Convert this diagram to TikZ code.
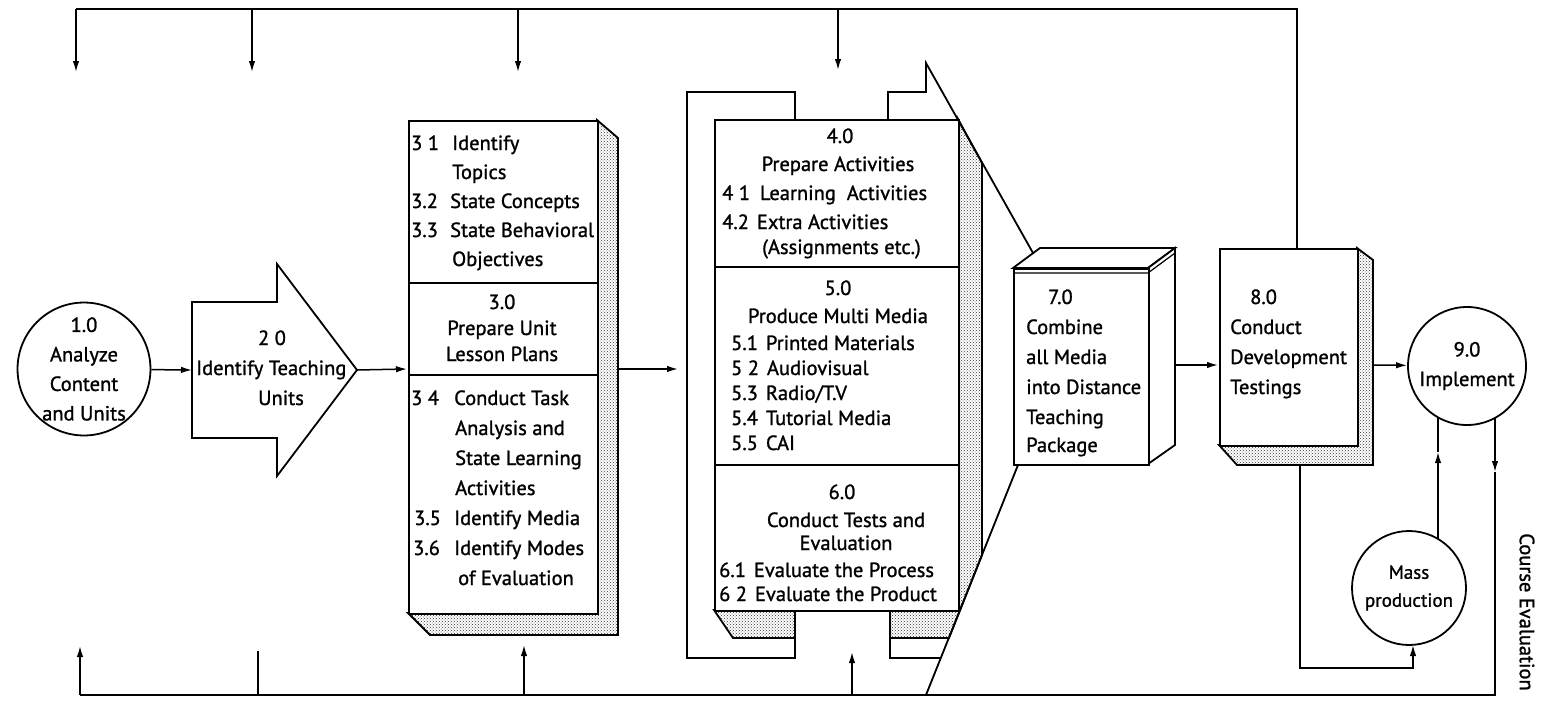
\documentclass[tikz,border=0pt]{standalone}
\usepackage{fontspec}
\setmainfont{PT Sans}[FakeBold=1.2]
\usetikzlibrary{arrows.meta,patterns}
\begin{document}
\begin{tikzpicture}[x=1pt,y=-1pt,
  box/.style={draw, line width=1.8pt, line join=miter},
  conn/.style={line width=1.5pt},
  arr/.style={conn,-{Latex[length=11pt,width=6.5pt]}},
  shade/.style={draw, line width=1.8pt, pattern=crosshatch dots, pattern color=black!80},
  txt/.style={font=\fontsize{20.5}{29}\selectfont, inner sep=0pt},
  lt/.style={txt, anchor=base west},
  ct/.style={txt, anchor=base},
  rnode/.style={box, fill=white, anchor=north west, inner sep=0pt},
  cnode/.style={circle, draw, line width=1.8pt, fill=white, inner sep=0pt, align=center, font=\fontsize{20.5}{29.5}\selectfont},
]
\useasboundingbox (0,0) rectangle (1542,704);

% ---------- coordinates for connectors ----------
\coordinate (topR) at (1297,9);
\coordinate (topL) at (76,9);
\coordinate (d1) at (76,72);
\coordinate (d2s) at (252,9);  \coordinate (d2) at (252,72);
\coordinate (d3s) at (518,9);  \coordinate (d3) at (518,72);
\coordinate (d4s) at (838,9);  \coordinate (d4) at (838,70);
\coordinate (botR) at (1495,695);
\coordinate (botL) at (80,695);
\coordinate (u1) at (80,646);
\coordinate (u2s) at (258,695); \coordinate (u2) at (258,651);
\coordinate (u3s) at (524,695); \coordinate (u3) at (524,645);
\coordinate (u4s) at (852,695); \coordinate (u4) at (852,652);

% ---------- 1.0 ----------
\node[cnode, minimum size=132pt] (c1) at (84,369) {1.0\\Analyze\\Content\\and Units};

% ---------- 2.0 arrow shape ----------
\draw[box] (192,302) -- (277,302) -- (277,264) -- (357,370) -- (277,476) -- (277,438) -- (192,438) -- cycle;
\coordinate (a2w) at (192,370);
\coordinate (a2e) at (357,370);
\node[ct] (t20) at (272,345) {2 0};
\node[lt] (t21) at (196,375) {Identify Teaching};
\node[ct] (t22) at (281,405) {Units};

% ---------- 3 box ----------
\path[shade] (597,120) -- (618,138) -- (618,635) -- (430,635) -- (408,613) -- (597,613) -- cycle;
\node[rnode, minimum width=189pt, minimum height=493pt] (b3) at (408,120) {};
\draw[box] (408,283) -- (597,283);
\draw[box] (408,375) -- (597,375);
\coordinate (b3w) at (407,369);
\coordinate (b3e) at (618,369);
\node[lt] at (411,150) {\makebox[41pt][l]{3 1}Identify};
\node[lt] at (452,179) {Topics};
\node[lt] at (411,208) {\makebox[39pt][l]{3.2}State Concepts};
\node[lt] at (411,237) {\makebox[39pt][l]{3.3}State Behavioral};
\node[lt] at (452,266) {Objectives};
\node[ct] at (502,309) {3.0};
\node[ct] at (502,335) {Prepare Unit};
\node[ct] at (502,361) {Lesson Plans};
\node[lt] at (411,405) {\makebox[43pt][l]{3 4}Conduct Task};
\node[lt] at (455,435) {Analysis and};
\node[lt] at (455,465) {State Learning};
\node[lt] at (455,495) {Activities};
\node[lt] at (414,525) {\makebox[40pt][l]{3.5}Identify Media};
\node[lt] at (413,555) {\makebox[41pt][l]{3.6}Identify Modes};
\node[lt] at (458,585) {of Evaluation};

% ---------- 4/5/6 box ----------
\path[shade] (958,119) -- (982,163) -- (982,555) -- (949,638) -- (890,638) -- (890,610) -- (958,610) -- cycle;
\path[shade] (714,610) -- (733,638) -- (795,638) -- (795,610) -- cycle;
\node[rnode, minimum width=244pt, minimum height=491pt] (b4) at (714,119) {};
\draw[box] (714,267) -- (958,267);
\draw[box] (714,465) -- (958,465);
\draw[box] (795,119) -- (795,92) -- (687,92) -- (687,658) -- (795,658) -- (795,638);
\draw[box] (888,119) -- (888,92) -- (926,92) -- (926,63) -- (1033,253);
\draw[box] (890,638) -- (890,658) -- (941,658);
\draw[box] (1018,465) -- (926,695);
\coordinate (b4w) at (678,369);
\node[ct] at (840,143) {4.0};
\node[ct] at (838,171) {Prepare Activities};
\node[lt] at (722,200) {4 1\hspace{10pt}Learning\ \ Activities};
\node[lt] at (722,229) {4.2\hspace{8pt}Extra Activities};
\node[lt] at (762,254) {(Assignments etc.)};
\node[ct] at (838,295) {5.0};
\node[ct] at (838,323) {Produce Multi Media};
\node[lt] at (731,350) {5.1\hspace{8pt}Printed Materials};
\node[lt] at (731,375) {5 2\hspace{8pt}Audiovisual};
\node[lt] at (731,400) {5.3\hspace{8pt}Radio/T.V};
\node[lt] at (731,425) {5.4\hspace{8pt}Tutorial Media};
\node[lt] at (731,450) {5.5\hspace{8pt}CAI};
\node[ct] at (842,499) {6.0};
\node[ct] at (846,527) {Conduct Tests and};
\node[ct] at (846,550) {Evaluation};
\node[lt] at (719,577) {6.1\hspace{8pt}Evaluate\ the\ Process};
\node[lt] at (719,601) {6 2\hspace{8pt}Evaluate\ the\ Product};

% ---------- 7.0 box ----------
\draw[box, fill=white] (1013,268) -- (1040,248) -- (1175,248) -- (1148,268) -- cycle;
\draw[box, fill=white] (1148,268) -- (1175,248) -- (1175,445) -- (1148,464) -- cycle;
\node[rnode, minimum width=135pt, minimum height=196pt] (b7) at (1013,268) {};
\draw[line width=1.2pt] (1013,273) -- (1148,273) -- (1175,253);
\coordinate (b7e) at (1175,365);
\node[lt] at (1048,304) {7.0};
\node[lt] at (1026,334) {Combine};
\node[lt] at (1026,364) {all Media};
\node[lt] at (1026,394) {into Distance};
\node[lt] at (1026,424) {Teaching};
\node[lt] at (1026,452) {Package};

% ---------- 8.0 box ----------
\path[shade] (1357,248) -- (1373,260) -- (1373,465) -- (1237,465) -- (1219,445) -- (1357,445) -- cycle;
\node[rnode, minimum width=138pt, minimum height=197pt] (b8) at (1219,248) {};
\coordinate (b8w) at (1218,365);
\coordinate (b8e) at (1373,365);
\coordinate (b8t) at (1297,248);
\coordinate (b8b) at (1300,465);
\coordinate (b8c) at (1300,668);
\coordinate (mpc) at (1413,668);
\node[lt] at (1250,304) {8.0};
\node[lt] at (1230,334) {Conduct};
\node[lt] at (1230,364) {Development};
\node[lt] at (1230,394) {Testings};

% ---------- 9.0 and mass production ----------
\node[cnode, minimum size=118pt] (c9) at (1467,366) {9.0\\Implement};
\node[cnode, minimum size=114pt, font=\fontsize{19}{28}\selectfont] (mp) at (1409,588) {Mass\\production};
\coordinate (mpt) at (1438,539);
\coordinate (mpm) at (1438,452);
\coordinate (c9b) at (1438,417);
\coordinate (mpb) at (1413,645);
\coordinate (c9r) at (1495,418);
\coordinate (cem) at (1495,472);
\node[txt, rotate=-90] (ce) at (1527,612) {Course Evaluation};

% ---------- connectors ----------
\draw[arr] (c1) -- (a2w);
\draw[arr] (a2e) -- (b3w);
\draw[arr] (b3e) -- (b4w);
\draw[arr] (b7e) -- (b8w);
\draw[arr] (b8e) -- (c9);
\draw[conn] (b8t) -- (topR) -- (topL);
\draw[arr] (topL) -- (d1);
\draw[arr] (d2s) -- (d2);
\draw[arr] (d3s) -- (d3);
\draw[arr] (d4s) -- (d4);
\draw[arr] (b8b) -- (b8c) -- (mpc) -- (mpb);
\draw[arr] (mpt) -- (mpm);
\draw[conn] (mpm) -- (c9b);
\draw[arr] (c9r) -- (cem);
\draw[conn] (cem) -- (botR) -- (botL);
\draw[arr] (botL) -- (u1);
\draw[conn] (u2s) -- (u2);
\draw[arr] (u3s) -- (u3);
\draw[arr] (u4s) -- (u4);
\end{tikzpicture}
\end{document}
